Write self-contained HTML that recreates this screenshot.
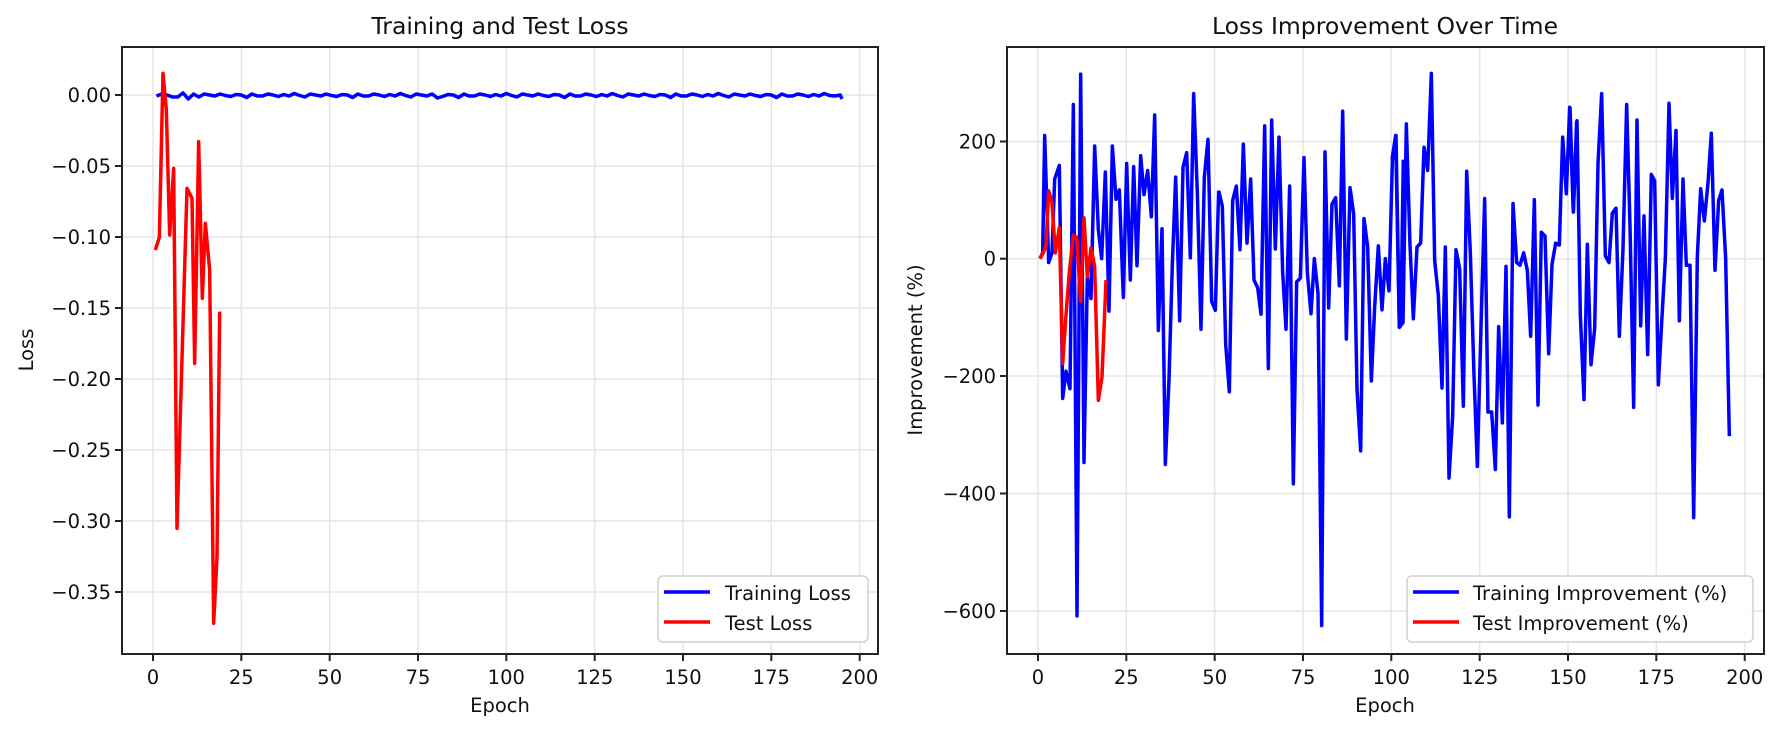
<!DOCTYPE html>
<html><head><meta charset="utf-8"><style>
html,body{margin:0;padding:0;background:#fff;}
svg{display:block;font-family:"DejaVu Sans","Liberation Sans",sans-serif;}
</style></head><body>
<svg width="1781" height="731" viewBox="0 0 1781 731" xmlns="http://www.w3.org/2000/svg">
<rect width="1781" height="731" fill="#fff"/>

<!-- ===== LEFT AXES ===== -->
<g stroke="#e6e6e6" stroke-width="1.5">
  <line x1="153" y1="47" x2="153" y2="654"/><line x1="241.3" y1="47" x2="241.3" y2="654"/>
  <line x1="329.7" y1="47" x2="329.7" y2="654"/><line x1="418" y1="47" x2="418" y2="654"/>
  <line x1="506.3" y1="47" x2="506.3" y2="654"/><line x1="594.7" y1="47" x2="594.7" y2="654"/>
  <line x1="683" y1="47" x2="683" y2="654"/><line x1="771.3" y1="47" x2="771.3" y2="654"/>
  <line x1="859.7" y1="47" x2="859.7" y2="654"/>
  <line x1="122" y1="95" x2="878" y2="95"/><line x1="122" y1="166" x2="878" y2="166"/>
  <line x1="122" y1="237" x2="878" y2="237"/><line x1="122" y1="308" x2="878" y2="308"/>
  <line x1="122" y1="379" x2="878" y2="379"/><line x1="122" y1="450" x2="878" y2="450"/>
  <line x1="122" y1="521" x2="878" y2="521"/><line x1="122" y1="592" x2="878" y2="592"/>
</g>

<polyline fill="none" stroke="#0000ff" stroke-width="3.5" stroke-linejoin="round" points="156.5,96 161.8,94 167.1,95 172.4,97 177.7,97 183.0,93 188.3,99 193.6,94 198.9,97 204.2,94 209.5,95 214.8,96 220.1,94 225.4,95.5 230.7,96.5 236.0,94.5 241.3,95 246.6,97.5 251.9,94 257.2,96 262.5,96 267.8,94 273.1,95 278.4,96.5 283.7,94.5 289.0,96 294.3,93.5 299.6,95.5 304.9,97 310.2,94 315.5,95 320.8,96 326.1,94 331.4,95.5 336.7,96.5 342.0,94.5 347.3,95 352.6,97.5 357.9,94 363.2,96 368.5,96 373.8,94 379.1,95 384.4,96.5 389.7,94.5 395.0,96 400.3,93.5 405.6,95.5 410.9,97 416.2,94 421.5,95 426.8,96 432.1,94 437.4,98 442.7,96.5 448.0,94.5 453.3,95 458.6,97.5 463.9,94 469.2,96 474.5,96 479.8,94 485.1,95 490.4,96.5 495.7,94.5 501.0,96 506.3,93.5 511.6,95.5 516.9,97 522.2,94 527.5,95 532.8,96 538.1,94 543.4,95.5 548.7,96.5 554.0,94.5 559.3,95 564.6,97.5 569.9,94 575.2,96 580.5,96 585.8,94 591.1,95 596.4,96.5 601.7,94.5 607.0,96 612.3,93.5 617.6,95.5 622.9,97 628.2,94 633.5,95 638.8,96 644.1,94 649.4,95.5 654.7,96.5 660.0,94.5 665.3,95 670.6,97.5 675.9,94 681.2,96 686.5,96 691.8,94 697.1,95 702.4,96.5 707.7,94.5 713.0,96 718.3,93.5 723.6,95.5 728.9,97 734.2,94 739.5,95 744.8,96 750.1,94 755.4,95.5 760.7,96.5 766.0,94.5 771.3,95 776.6,97.5 781.9,94 787.2,96 792.5,96 797.8,94 803.1,95 808.4,96.5 813.7,94.5 819.0,96 824.3,93.5 829.6,95.5 834.9,96 840.2,95 842,99"/>

<g transform="translate(107,50) scale(0.33333)">
<polyline fill="none" stroke="#ff0000" stroke-width="3.5" vector-effect="non-scaling-stroke" stroke-linejoin="round" points="145,600 157,562 168,70 178,180 188,555 200,355 210,1435 240,415 255,445 263,940 275,275 286,745 295,520 308,660 320,1720 330,1520 338,785"/>
</g>

<rect x="122" y="47" width="756" height="607" fill="none" stroke="#222" stroke-width="2"/>
<g stroke="#222" stroke-width="2">
  <line x1="115" y1="95" x2="122" y2="95"/><line x1="115" y1="166" x2="122" y2="166"/>
  <line x1="115" y1="237" x2="122" y2="237"/><line x1="115" y1="308" x2="122" y2="308"/>
  <line x1="115" y1="379" x2="122" y2="379"/><line x1="115" y1="450" x2="122" y2="450"/>
  <line x1="115" y1="521" x2="122" y2="521"/><line x1="115" y1="592" x2="122" y2="592"/>
  <line x1="153" y1="654" x2="153" y2="661"/><line x1="241.3" y1="654" x2="241.3" y2="661"/>
  <line x1="329.7" y1="654" x2="329.7" y2="661"/><line x1="418" y1="654" x2="418" y2="661"/>
  <line x1="506.3" y1="654" x2="506.3" y2="661"/><line x1="594.7" y1="654" x2="594.7" y2="661"/>
  <line x1="683" y1="654" x2="683" y2="661"/><line x1="771.3" y1="654" x2="771.3" y2="661"/>
  <line x1="859.7" y1="654" x2="859.7" y2="661"/>
</g>
<g font-size="19.5" fill="#111" text-anchor="end">
  <text x="111" y="102">0.00</text><text x="111" y="173">−0.05</text>
  <text x="111" y="244">−0.10</text><text x="111" y="315">−0.15</text>
  <text x="111" y="386">−0.20</text><text x="111" y="457">−0.25</text>
  <text x="111" y="528">−0.30</text><text x="111" y="599">−0.35</text>
</g>
<g font-size="19.5" fill="#111" text-anchor="middle">
  <text x="153" y="684">0</text><text x="241.3" y="684">25</text>
  <text x="329.7" y="684">50</text><text x="418" y="684">75</text>
  <text x="506.3" y="684">100</text><text x="594.7" y="684">125</text>
  <text x="683" y="684">150</text><text x="771.3" y="684">175</text>
  <text x="859.7" y="684">200</text>
  <text x="500" y="712">Epoch</text>
  <text x="500" y="34" font-size="23.5">Training and Test Loss</text>
</g>
<text transform="translate(33,350) rotate(-90)" font-size="19.5" fill="#111" text-anchor="middle">Loss</text>

<rect x="658" y="576" width="210" height="66" rx="5" fill="#fff" fill-opacity="0.85" stroke="#d0d0d0" stroke-width="1.5"/>
<line x1="664" y1="592" x2="710" y2="592" stroke="#0000ff" stroke-width="3.5"/>
<line x1="664" y1="622" x2="710" y2="622" stroke="#ff0000" stroke-width="3.5"/>
<text x="725" y="600" font-size="19.5" fill="#111">Training Loss</text>
<text x="725" y="630" font-size="19.5" fill="#111">Test Loss</text>

<!-- ===== RIGHT AXES ===== -->
<g stroke="#e6e6e6" stroke-width="1.5">
  <line x1="1038" y1="47" x2="1038" y2="654"/><line x1="1126.3" y1="47" x2="1126.3" y2="654"/>
  <line x1="1214.7" y1="47" x2="1214.7" y2="654"/><line x1="1303" y1="47" x2="1303" y2="654"/>
  <line x1="1391.3" y1="47" x2="1391.3" y2="654"/><line x1="1479.7" y1="47" x2="1479.7" y2="654"/>
  <line x1="1568" y1="47" x2="1568" y2="654"/><line x1="1656.3" y1="47" x2="1656.3" y2="654"/>
  <line x1="1744.7" y1="47" x2="1744.7" y2="654"/>
  <line x1="1007" y1="141.5" x2="1764" y2="141.5"/><line x1="1007" y1="258.7" x2="1764" y2="258.7"/>
  <line x1="1007" y1="376" x2="1764" y2="376"/><line x1="1007" y1="493.5" x2="1764" y2="493.5"/>
  <line x1="1007" y1="611" x2="1764" y2="611"/>
</g>

<g fill="none" stroke="#0000ff" stroke-width="3.5" stroke-linejoin="round">
<g transform="translate(1030,47) scale(0.33333,0.38835)">
<polyline vector-effect="non-scaling-stroke" points="30,545 38,530 44,228 56,555 66,530 74,340 88,305 98,905 108,835 120,880 130,148 141,1465 152,70 162,1070 172,590 183,648 194,255 205,470 215,545 226,322 237,680 247,255 258,392 268,368 280,645 290,300 301,600 311,308 321,563 332,280 342,380 353,318 364,437 374,175 385,730 396,468 406,1075 417,855 427,560 437,335 449,705 459,310 470,272 481,543 491,120 502,375 513,727 523,335 534,238 545,655 556,678 566,370"/>
</g>
<g transform="translate(1210,47) scale(0.33333,0.38835)">
<polyline vector-effect="non-scaling-stroke" points="26,370 37,410 47,765 58,888 68,395 79,358 90,522 100,250 111,505 122,340 132,600 143,620 153,688 164,203 175,828 185,188 196,520 207,232 218,580 228,727 239,358 250,1125 260,605 271,595 282,285 292,580 303,687 313,545 324,635 335,1490 345,270 356,672 366,405 377,388 388,615 398,165 409,752 420,362 431,430 441,880 452,1040 462,442 473,515 484,860 494,670 505,512 516,677 526,545 537,628 547,295 558,228 568,720 574,630 580,290"/>
</g>
<g transform="translate(1390,47) scale(0.33333,0.38835)">
<polyline vector-effect="non-scaling-stroke" points="6,290 17,228 28,722 39,710 49,198 60,510 70,700 81,515 92,505 102,258 113,318 124,68 134,550 145,640 156,878 166,515 177,1110 188,950 198,522 209,572 220,925 230,320 241,530 252,845 262,1080 273,720 284,390 294,940 305,940 316,1088 326,720 337,968 348,565 358,1210 369,403 380,555 390,562 401,530 412,575 422,745 433,393 444,922 454,477 465,487 476,790 486,560 497,505 508,510 518,232 529,378 539,155 550,425 560,190"/>
</g>
<g transform="translate(1570,47) scale(0.33333,0.38835)">
<polyline vector-effect="non-scaling-stroke" points="0,155 10,425 21,190 31,690 42,908 52,508 63,818 74,725 84,300 95,120 106,538 117,555 127,428 138,415 148,745 159,520 170,148 180,460 191,928 201,188 212,718 222,435 233,792 244,328 254,345 265,870 275,710 286,545 297,145 307,390 318,215 328,705 339,340 349,562 360,562 371,1212 382,540 392,365 403,448 414,350 424,222 435,575 446,395 456,368 467,545 478,1002"/>
</g>
</g>
<g transform="translate(1030,47) scale(0.33333,0.38835)">
<polyline fill="none" stroke="#ff0000" stroke-width="3.5" vector-effect="non-scaling-stroke" stroke-linejoin="round" points="30,545 40,530 48,510 56,370 66,400 76,530 88,465 98,815 108,690 118,580 130,485 140,490 152,655 162,440 172,592 183,518 194,565 205,910 216,850 228,600"/>
</g>

<rect x="1007" y="47" width="757" height="607" fill="none" stroke="#222" stroke-width="2"/>
<g stroke="#222" stroke-width="2">
  <line x1="1000" y1="141.5" x2="1007" y2="141.5"/><line x1="1000" y1="258.7" x2="1007" y2="258.7"/>
  <line x1="1000" y1="376" x2="1007" y2="376"/><line x1="1000" y1="493.5" x2="1007" y2="493.5"/>
  <line x1="1000" y1="611" x2="1007" y2="611"/>
  <line x1="1038" y1="654" x2="1038" y2="661"/><line x1="1126.3" y1="654" x2="1126.3" y2="661"/>
  <line x1="1214.7" y1="654" x2="1214.7" y2="661"/><line x1="1303" y1="654" x2="1303" y2="661"/>
  <line x1="1391.3" y1="654" x2="1391.3" y2="661"/><line x1="1479.7" y1="654" x2="1479.7" y2="661"/>
  <line x1="1568" y1="654" x2="1568" y2="661"/><line x1="1656.3" y1="654" x2="1656.3" y2="661"/>
  <line x1="1744.7" y1="654" x2="1744.7" y2="661"/>
</g>
<g font-size="19.5" fill="#111" text-anchor="end">
  <text x="996" y="148.5">200</text><text x="996" y="265.7">0</text>
  <text x="996" y="383">−200</text><text x="996" y="500.5">−400</text>
  <text x="996" y="618">−600</text>
</g>
<g font-size="19.5" fill="#111" text-anchor="middle">
  <text x="1038" y="684">0</text><text x="1126.3" y="684">25</text>
  <text x="1214.7" y="684">50</text><text x="1303" y="684">75</text>
  <text x="1391.3" y="684">100</text><text x="1479.7" y="684">125</text>
  <text x="1568" y="684">150</text><text x="1656.3" y="684">175</text>
  <text x="1744.7" y="684">200</text>
  <text x="1385" y="712">Epoch</text>
  <text x="1385" y="34" font-size="23.5">Loss Improvement Over Time</text>
</g>
<text transform="translate(922,350) rotate(-90)" font-size="19.5" fill="#111" text-anchor="middle">Improvement (%)</text>

<rect x="1407" y="576" width="346" height="66" rx="5" fill="#fff" fill-opacity="0.85" stroke="#d0d0d0" stroke-width="1.5"/>
<line x1="1413" y1="592" x2="1459" y2="592" stroke="#0000ff" stroke-width="3.5"/>
<line x1="1413" y1="622" x2="1459" y2="622" stroke="#ff0000" stroke-width="3.5"/>
<text x="1473" y="600" font-size="19.5" fill="#111">Training Improvement (%)</text>
<text x="1473" y="630" font-size="19.5" fill="#111">Test Improvement (%)</text>
</svg>
</body></html>
